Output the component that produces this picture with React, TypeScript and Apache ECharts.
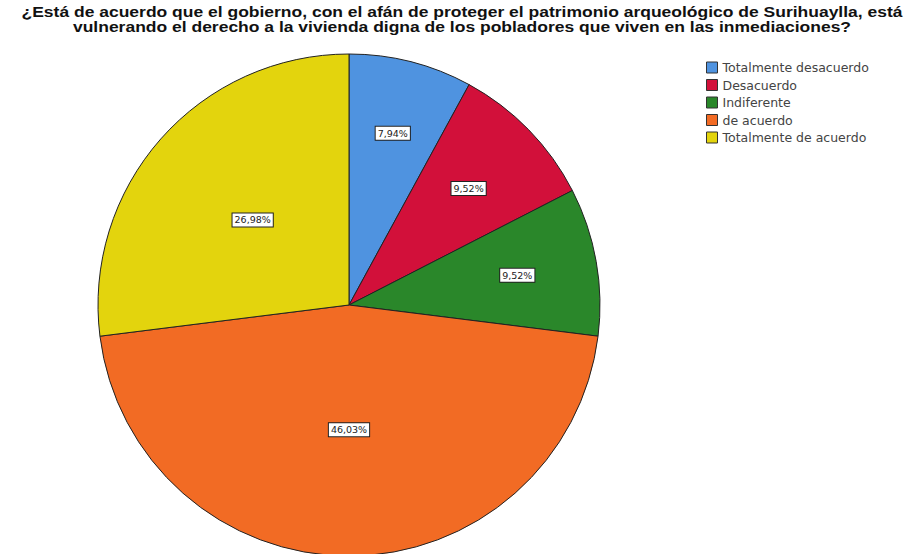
import React, { useEffect, useRef } from "react";
import * as echarts from "echarts";

const categories = [
  "Totalmente desacuerdo",
  "Desacuerdo",
  "Indiferente",
  "de acuerdo",
  "Totalmente de acuerdo",
];
const percentages = [7.94, 9.52, 9.52, 46.03, 26.98];
const colors = ["#4f93e0", "#d2103a", "#2a872a", "#f26b24", "#e3d40d"];
const titleLines = [
  "¿Está de acuerdo que el gobierno, con el afán de proteger el patrimonio arqueológico de Surihuaylla, está",
  "vulnerando el derecho a la vivienda digna de los pobladores que viven en las inmediaciones?",
];

const CX = 349;
const CY = 305;
const R = 251;

export default function App() {
  const ref = useRef<HTMLDivElement>(null);
  useEffect(() => {
    document.body.style.margin = "0";
    if (!ref.current) return;
    const chart = echarts.init(ref.current, undefined, { renderer: "svg" });
    const data = categories.map((name, i) => ({
      name,
      value: percentages[i],
      itemStyle: { color: colors[i] },
    }));
    const radialK = [1.38, 1.3, 1.33, 0.97, 1.0];
    chart.setOption({
      animation: false,
      backgroundColor: "#ffffff",
      graphic: titleLines.map((line, i) => ({
        type: "text",
        x: 462,
        y: 12 + i * 15,
        scaleX: 1.25,
        silent: true,
        style: {
          text: line,
          textAlign: "center",
          textVerticalAlign: "middle",
          fontFamily: "Liberation Sans, Arial, sans-serif",
          fontWeight: "bold",
          fontSize: 14,
          fill: "#111",
        },
      })),
      legend: {
        orient: "vertical",
        left: 701,
        top: 56,
        icon: "rect",
        itemWidth: 11,
        itemHeight: 11,
        itemGap: 4.5,
        selectedMode: false,
        itemStyle: { borderColor: "#333", borderWidth: 1 },
        textStyle: {
          fontFamily: "DejaVu Sans, sans-serif",
          fontSize: 12.5,
          color: "#444",
        },
        data: categories,
      },
      series: [
        {
          type: "pie",
          center: [CX, CY],
          radius: R,
          startAngle: 90,
          clockwise: true,
          silent: true,
          itemStyle: { borderColor: "#222", borderWidth: 1 },
          label: {
            show: true,
            position: "inside",
            formatter: (p: any) => p.value.toFixed(2).replace(".", ",") + "%",
            fontFamily: "DejaVu Sans, sans-serif",
            fontSize: 9.5,
            color: "#222",
            backgroundColor: "#ffffff",
            borderColor: "#222",
            borderWidth: 1,
            padding: [2, 2, 1, 2],
          },
          labelLine: { show: false },
          labelLayout: (params: any) => {
            const r = params.labelRect;
            const lx = r.x + r.width / 2;
            const ly = r.y + r.height / 2;
            const k = radialK[params.dataIndex];
            return { x: CX + (lx - CX) * k, y: CY + (ly - CY) * k };
          },
          data,
        },
      ],
    });
    return () => chart.dispose();
  }, []);
  return <div ref={ref} style={{ width: 922, height: 554 }} />;
}
